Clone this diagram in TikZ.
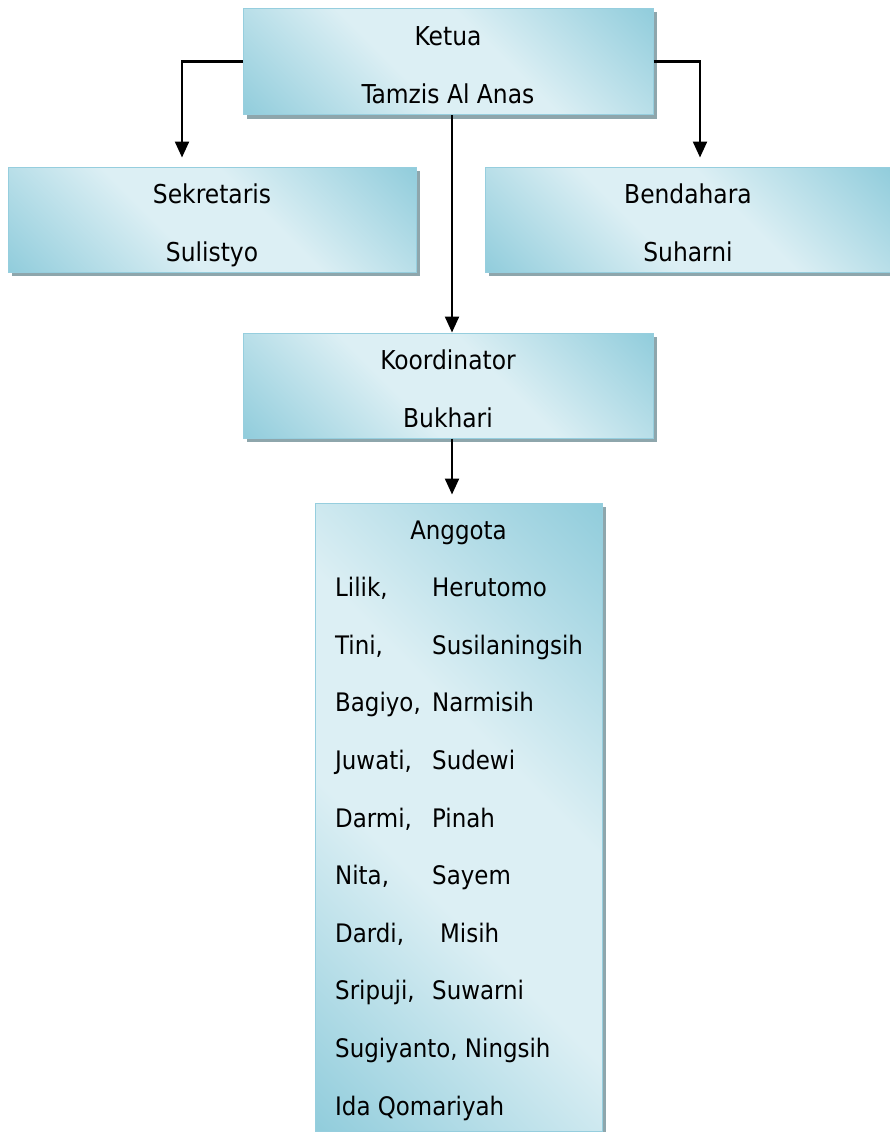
\documentclass[tikz,border=0pt]{standalone}
\usepackage{fontspec}
\setmainfont{DejaVu Sans Condensed}
\usepackage{xcolor}
\usetikzlibrary{arrows.meta,shadows}

\definecolor{biru}{RGB}{146,205,220}
\definecolor{birumuda}{RGB}{220,239,244}
\definecolor{garis}{RGB}{150,206,222}
\definecolor{bayang}{RGB}{142,166,172}

\pgfdeclareverticalshading{kaca}{100bp}{color(0bp)=(biru); color(15bp)=(biru); color(42bp)=(birumuda);
	color(58bp)=(birumuda); color(85bp)=(biru); color(100bp)=(biru)}

\newcommand{\isikotak}[2]{\rule{0pt}{25pt}#1\\\smash{#2}}

\tikzset{
	kotak/.style={draw=garis, line width=1pt, shading=kaca, shading angle=-45,
		drop shadow={shadow xshift=4pt, shadow yshift=-4pt, fill=bayang, opacity=1},
		minimum width=410pt, minimum height=106pt, align=center, inner sep=0pt,
		font=\fontsize{26}{58}\selectfont},
	nama/.style={anchor=base west, inner sep=0pt, font=\fontsize{25.5}{30}\selectfont},
	panah/.style={line width=2.3pt, -{Triangle[width=14pt,length=16pt]}}
}

\begin{document}
\begin{tikzpicture}[x=1pt, y=-1pt]
	\useasboundingbox (0,0) rectangle (890,1132);
	\node[kotak] (ketua) at (448,61.5) {\isikotak{Ketua}{Tamzis Al Anas}};
	\node[kotak, minimum width=408pt, minimum height=105pt] (sekretaris) at (212,219.5) {\isikotak{Sekretaris}{Sulistyo}};
	\node[kotak, minimum width=406pt, minimum height=105pt] (bendahara) at (688,219.5) {\isikotak{Bendahara}{Suharni}};
	\node[kotak, minimum height=105pt] (koordinator) at (448,385.5) {\isikotak{Koordinator}{Bukhari}};
	\node[kotak, minimum width=287pt, minimum height=628pt] (anggota) at (458.5,817) {};

	% isi anggota
	\node[nama, anchor=base] (judul) at (458.5,539) {Anggota};
	\foreach \a/\b/\c [count=\i] in {Lilik/Herutomo/432, Tini/Susilaningsih/432, Bagiyo/Narmisih/432, Juwati/Sudewi/432,
		Darmi/Pinah/432, Nita/Sayem/432, Dardi/Misih/440, Sripuji/Suwarni/432}{
		\node[nama] (depan\i) at (335,{539+\i*57.6}) {\a,};
		\node[nama] (belakang\i) at (\c,{539+\i*57.6}) {\b};
	}
	\node[nama] (depan9) at (335,{539+9*57.6}) {Sugiyanto, Ningsih};
	\node[nama] (depan10) at (335,{539+10*57.6}) {Ida Qomariyah};

	% garis
	\draw[panah, shorten >=9pt] (ketua.west) -| (sekretaris.north-|182,0);
	\draw[panah, shorten >=9pt] (ketua.east) -| (bendahara.north-|700,0);
	\draw[panah] ([xshift=4pt]ketua.south) -- ([xshift=4pt]koordinator.north);
	\draw[panah, shorten >=8pt] ([xshift=4pt]koordinator.south) -- ([xshift=4pt]koordinator.south|-anggota.north);
\end{tikzpicture}
\end{document}
